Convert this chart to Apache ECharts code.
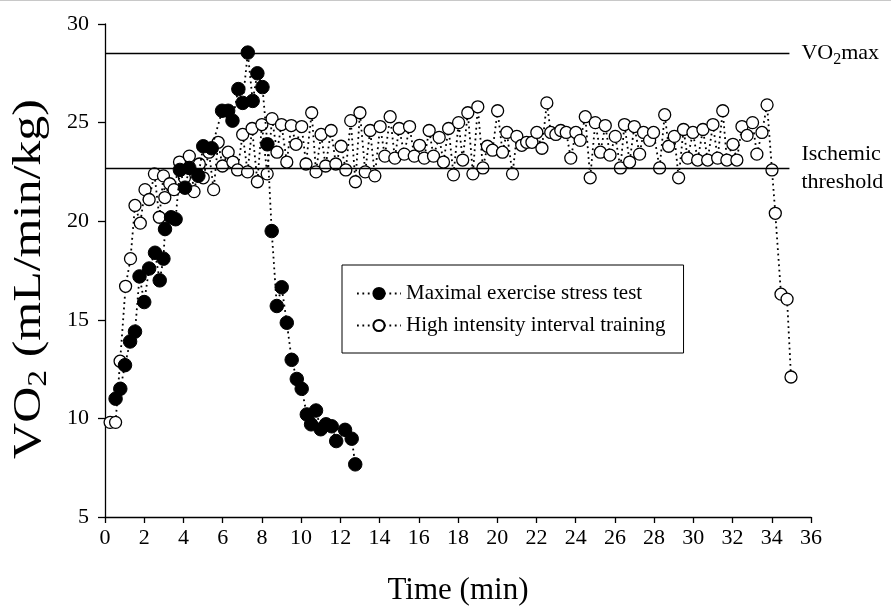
<!DOCTYPE html>
<html>
<head>
<meta charset="utf-8">
<script src="https://cdn.jsdelivr.net/npm/echarts@6/dist/echarts.min.js"></script>
<style>
  html, body { margin: 0; padding: 0; background: #fff; }
  #chart { width: 891px; height: 611px; }
</style>
</head>
<body>
<div id="chart"></div>
<script>
// time (min) and VO2
const stressTime = [0.54, 0.78, 1.02, 1.28, 1.53, 1.76, 2.0, 2.25, 2.55, 2.79, 2.98, 3.06, 3.37, 3.6, 3.82, 4.08, 4.3, 4.76, 5.01, 5.44,
  5.97, 6.28, 6.5, 6.8, 7.02, 7.28, 7.53, 7.77, 8.03, 8.28, 8.5, 8.76, 9.01, 9.27, 9.52, 9.78, 10.03, 10.29, 10.51, 10.76,
  11.0, 11.27, 11.56, 11.79, 12.24, 12.58, 12.76]
const stressVO2 = [11.0, 11.5, 12.7, 13.9, 14.4, 17.2, 15.9, 17.6, 18.4, 17.0, 18.1, 19.6, 20.2, 20.1, 22.6, 21.7, 22.7, 22.3, 23.8, 23.7,
  25.6, 25.6, 25.1, 26.7, 26.0, 28.55, 26.1, 27.5, 26.8, 23.9, 19.5, 15.7, 16.65, 14.85, 12.97, 12.0, 11.5, 10.2, 9.7, 10.4,
  9.45, 9.7, 9.6, 8.85, 9.42, 8.97, 7.67]

const hiitTime = [0.26, 0.54, 0.77, 1.05, 1.3, 1.53, 1.8, 2.04, 2.25, 2.52, 2.77, 2.98, 3.05, 3.3, 3.52, 3.8, 4.05, 4.3, 4.54, 4.81,
  5.01, 5.3, 5.54, 5.77, 5.99, 6.28, 6.52, 6.76, 7.02, 7.27, 7.5, 7.77, 8.0, 8.27, 8.52, 8.77, 9.0, 9.27, 9.5, 9.74,
  10.03, 10.25, 10.54, 10.76, 11.02, 11.25, 11.53, 11.77, 12.04, 12.28, 12.53, 12.77, 13.0, 13.27, 13.52, 13.76, 14.03, 14.27, 14.54, 14.78,
  15.0, 15.26, 15.53, 15.77, 16.04, 16.28, 16.53, 16.75, 17.04, 17.26, 17.52, 17.77, 18.03, 18.24, 18.5, 18.76, 19.01, 19.27, 19.5, 19.76,
  20.02, 20.27, 20.49, 20.78, 21.0, 21.25, 21.5, 21.77, 22.02, 22.28, 22.53, 22.73, 22.99, 23.24, 23.52, 23.75, 24.01, 24.23, 24.49, 24.74,
  25.0, 25.26, 25.51, 25.75, 26.02, 26.28, 26.49, 26.75, 26.99, 27.26, 27.46, 27.77, 27.97, 28.28, 28.54, 28.74, 29.03, 29.25, 29.5, 29.71,
  29.98, 30.22, 30.49, 30.73, 31.0, 31.24, 31.5, 31.71, 32.02, 32.22, 32.48, 32.74, 33.02, 33.24, 33.5, 33.76, 34.01, 34.18, 34.47, 34.78,
  34.98]
const hiitVO2 = [9.8, 9.8, 12.9, 16.7, 18.1, 20.8, 19.9, 21.6, 21.1, 22.4, 20.2, 22.3, 21.2, 21.9, 21.6, 23.0, 22.2, 23.3, 21.5, 22.9,
  22.2, 23.5, 21.6, 24.0, 22.8, 23.5, 23.0, 22.6, 24.4, 22.5, 24.7, 22.0, 24.9, 22.4, 25.2, 23.5, 24.9, 23.0, 24.85, 23.9,
  24.8, 22.9, 25.5, 22.5, 24.4, 22.8, 24.6, 22.9, 23.8, 22.6, 25.1, 22.0, 25.5, 22.5, 24.6, 22.3, 24.8, 23.3, 25.3, 23.2,
  24.7, 23.4, 24.8, 23.3, 23.85, 23.2, 24.6, 23.3, 24.25, 23.0, 24.7, 22.35, 25.0, 23.1, 25.5, 22.4, 25.8, 22.7, 23.8, 23.6,
  25.6, 23.5, 24.5, 22.4, 24.3, 23.85, 24.0, 24.0, 24.5, 23.7, 26.0, 24.5, 24.4, 24.6, 24.5, 23.2, 24.5, 24.1, 25.3, 22.2,
  25.0, 23.5, 24.85, 23.35, 24.3, 22.7, 24.9, 23.0, 24.8, 23.4, 24.5, 24.1, 24.5, 22.7, 25.4, 23.8, 24.3, 22.2, 24.65, 23.2,
  24.5, 23.1, 24.65, 23.1, 24.9, 23.2, 25.6, 23.1, 23.9, 23.1, 24.8, 24.35, 25.0, 23.4, 24.5, 25.9, 22.6, 20.4, 16.3, 16.05,
  12.1]

const vo2max = 28.5
const ischemic = 22.7
const refLineEnd = 34.9

const xTicks = { min: 0, max: 36, interval: 2 }
const yTicks = { min: 5, max: 30, interval: 5 }

const font = 'Liberation Serif, Times New Roman, serif'
const pairs = (xs, ys) => xs.map((x, i) => [x, ys[i]])

const chart = echarts.init(document.getElementById('chart'))
chart.setOption({
  animation: false,
  textStyle: { fontFamily: font, color: '#000' },
  grid: { left: 105, right: 80, top: 24, bottom: 78 },
  legend: {
    left: 342,
    top: 265,
    orient: 'vertical',
    padding: [18, 18, 17, 14],
    itemGap: 11,
    itemWidth: 44,
    itemHeight: 14,
    borderColor: '#000',
    borderWidth: 1,
    textStyle: { fontFamily: font, fontSize: 21, color: '#000' },
    data: ['Maximal exercise stress test', 'High intensity interval training']
  },
  xAxis: {
    type: 'value',
    min: xTicks.min,
    max: xTicks.max,
    interval: xTicks.interval,
    name: 'Time (min)',
    nameLocation: 'middle',
    nameGap: 58,
    nameTextStyle: { fontFamily: font, fontSize: 31, color: '#000' },
    splitLine: { show: false },
    axisLine: { lineStyle: { color: '#000', width: 1.3 } },
    axisTick: { length: 6, lineStyle: { color: '#000', width: 1.3 } },
    axisLabel: { fontFamily: font, fontSize: 22, color: '#000', margin: 10 }
  },
  yAxis: {
    type: 'value',
    min: yTicks.min,
    max: yTicks.max,
    interval: yTicks.interval,
    splitLine: { show: false },
    axisLine: { lineStyle: { color: '#000', width: 1.3 } },
    axisTick: { length: 7, lineStyle: { color: '#000', width: 1.3 } },
    axisLabel: { fontFamily: font, fontSize: 22, color: '#000', margin: 16 }
  },
  series: [
    {
      name: 'High intensity interval training',
      type: 'line',
      data: pairs(hiitTime, hiitVO2),
      symbol: 'circle',
      symbolSize: 12,
      itemStyle: { color: '#fff', borderColor: '#000', borderWidth: 1.3 },
      lineStyle: { color: '#000', width: 1.8, type: [1.8, 3.6] },
      markLine: {
        silent: true,
        symbol: 'none',
        lineStyle: { color: '#000', width: 1.3, type: 'solid' },
        label: {
          position: 'end',
          distance: 12,
          color: '#000',
          fontFamily: font,
          fontSize: 22,
          lineHeight: 28,
          rich: {
            a: { fontFamily: font, fontSize: 22, color: '#000' },
            s: { fontFamily: font, fontSize: 16, color: '#000', verticalAlign: 'bottom', padding: [11, 0, 0, 0] }
          }
        },
        data: [
          [{ coord: [0, vo2max], label: { formatter: '{a|VO}{s|2}{a|max}' } }, { coord: [refLineEnd, vo2max] }],
          [{ coord: [0, ischemic], label: { formatter: 'Ischemic\nthreshold' } }, { coord: [refLineEnd, ischemic] }]
        ]
      },
      z: 2
    },
    {
      name: 'Maximal exercise stress test',
      type: 'line',
      data: pairs(stressTime, stressVO2),
      symbol: 'circle',
      symbolSize: 13.5,
      itemStyle: { color: '#000', borderColor: '#000', borderWidth: 1 },
      lineStyle: { color: '#000', width: 1.8, type: [1.8, 3.6] },
      z: 3
    }
  ],
  graphic: [
    { type: 'rect', shape: { x: 0, y: 0, width: 891, height: 1 }, style: { fill: '#c8c8c8' }, silent: true },
    {
      // y axis title, drawn tall like the original
      type: 'text',
      x: 29,
      y: 279,
      rotation: Math.PI / 2,
      scaleX: 1.25,
      silent: true,
      style: {
        text: '{a|VO}{s|2}{a| (mL/min/kg)}',
        align: 'center',
        verticalAlign: 'middle',
        fill: '#000',
        rich: {
          a: { fontFamily: font, fontSize: 40, fill: '#000', lineHeight: 46 },
          s: { fontFamily: font, fontSize: 27, fill: '#000', lineHeight: 46, verticalAlign: 'bottom', padding: [16, 0, 0, 0] }
        }
      }
    }
  ]
})
</script>
</body>
</html>
